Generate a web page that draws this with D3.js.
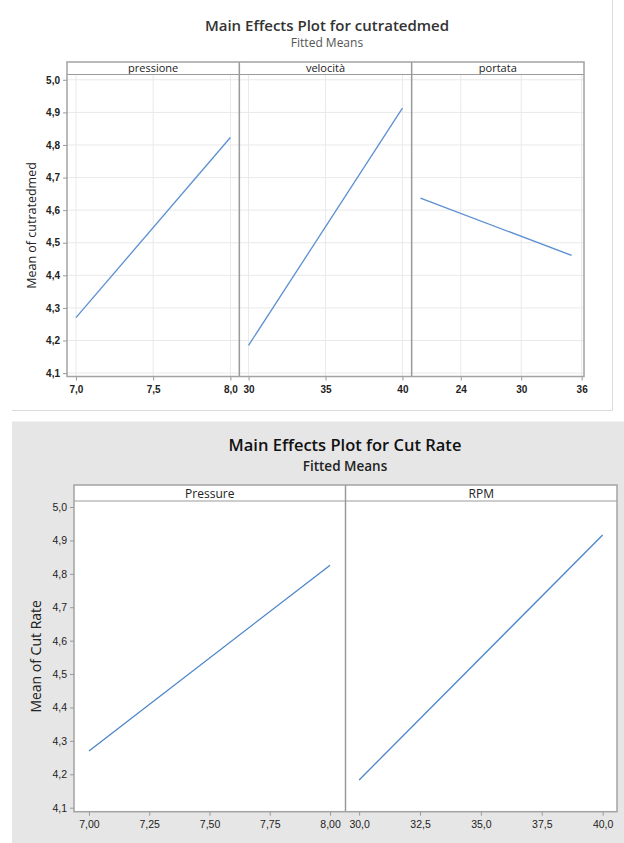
<!DOCTYPE html>
<html>
<head>
<meta charset="utf-8">
<script src="https://cdn.jsdelivr.net/npm/d3@7"></script>
<style>
  body { margin: 0; background: #fff; }
  svg { display: block; font-family: "Open Sans", "Noto Sans", sans-serif; }
</style>
</head>
<body>
<script>
'use strict';

/* Data */

// upper plot: cutratedmed
var topFactors = ['pressione', 'velocità', 'portata'];
var topLevels = [[7.0, 8.0], [30, 40], [20, 35]];
var topMeans = [[4.27, 4.823], [4.185, 4.913], [4.637, 4.461]];
var topTicks = [[7.0, 7.5, 8.0], [30, 35, 40], [24, 30, 36]];
var topAxisRange = [[6.942, 8.058], [29.4, 40.6], [19.13, 36.23]];
var topTickFormat = ['.1f', 'd', 'd'];

// lower plot: Cut Rate
var botFactors = ['Pressure', 'RPM'];
var botLevels = [[7.0, 8.0], [30, 40]];
var botMeans = [[4.27, 4.826], [4.183, 4.916]];
var botTicks = [[7.0, 7.25, 7.5, 7.75, 8.0], [30, 32.5, 35, 37.5, 40]];
var botAxisRange = [[6.938, 8.064], [29.44, 40.59]];
var botTickFormat = ['.2f', '.1f'];

var meanTicks = [4.1, 4.2, 4.3, 4.4, 4.5, 4.6, 4.7, 4.8, 4.9, 5.0];

var it = d3.formatLocale({decimal: ',', thousands: '.', grouping: [3], currency: ['', '']});

var svg = d3.select('body').append('svg')
    .attr('width', 624)
    .attr('height', 843);

function mainEffects(opt) {
  var g = svg.append('g'),
      n = opt.factors.length,
      paneW = (opt.right - opt.left) / n,
      plotTop = opt.top + opt.stripH,
      y = d3.scaleLinear().domain(opt.yDomain).range([opt.bottom, plotTop]);

  // title
  g.append('text')
    .attr('x', opt.cx).attr('y', opt.titleY)
    .attr('text-anchor', 'middle')
    .style('font-size', opt.titleSize + 'px')
    .style('font-weight', 600)
    .style('fill', opt.titleColor)
    .text(opt.title);
  g.append('text')
    .attr('x', opt.cx).attr('y', opt.subY)
    .attr('text-anchor', 'middle')
    .style('font-size', opt.subSize + 'px')
    .style('font-weight', opt.subWeight)
    .style('fill', opt.subColor)
    .text('Fitted Means');

  // plot area
  g.append('rect')
    .attr('x', opt.left).attr('y', opt.top)
    .attr('width', opt.right - opt.left).attr('height', opt.bottom - opt.top)
    .style('fill', '#fff');

  // horizontal grid
  if (opt.grid) {
    g.append('g').selectAll('line').data(meanTicks).enter().append('line')
      .attr('x1', opt.left).attr('x2', opt.right)
      .attr('y1', function(d) { return y(d); })
      .attr('y2', function(d) { return y(d); })
      .style('stroke', '#e9e9e9');
  }

  opt.factors.forEach(function(f, i) {
    var x0 = opt.left + i * paneW,
        x = d3.scaleLinear().domain(opt.range[i]).range([x0, x0 + paneW]),
        pts = opt.levels[i].map(function(l, j) { return [l, opt.means[i][j]]; });

    if (opt.grid) {
      g.append('g').selectAll('line').data(opt.ticks[i]).enter().append('line')
        .attr('x1', function(d) { return x(d); })
        .attr('x2', function(d) { return x(d); })
        .attr('y1', plotTop).attr('y2', opt.bottom)
        .style('stroke', '#e9e9e9');
    }

    var ax = g.append('g')
      .attr('transform', 'translate(0,' + opt.bottom + ')')
      .call(d3.axisBottom(x).tickValues(opt.ticks[i])
        .tickFormat(it.format(opt.fmt[i])).tickSize(4).tickPadding(5).tickSizeOuter(0));
    ax.select('.domain').remove();
    ax.selectAll('line').style('stroke', '#9a9a9a');
    ax.selectAll('text').style('font-size', opt.tickSize + 'px').style('fill', '#222')
      .style('font-weight', opt.tickWeight).style('font-family', 'inherit');

    g.append('path')
      .datum(pts)
      .attr('d', d3.line()
        .x(function(d) { return x(d[0]); })
        .y(function(d) { return y(d[1]); }))
      .style('fill', 'none')
      .style('stroke', opt.lineColor)
      .style('stroke-width', 1.3);

    // strip
    g.append('text')
      .attr('x', x0 + paneW / 2).attr('y', opt.top + opt.stripH - 3)
      .attr('text-anchor', 'middle')
      .style('font-size', opt.stripSize + 'px')
      .style('fill', '#222')
      .text(f);

    if (i > 0) {
      g.append('line')
        .attr('x1', x0).attr('x2', x0)
        .attr('y1', opt.top).attr('y2', opt.bottom)
        .style('stroke', '#9a9a9a').style('stroke-width', 1.5);
    }
  });

  g.append('line')
    .attr('x1', opt.left).attr('x2', opt.right)
    .attr('y1', plotTop).attr('y2', plotTop)
    .style('stroke', '#9a9a9a');

  g.append('rect')
    .attr('x', opt.left).attr('y', opt.top)
    .attr('width', opt.right - opt.left).attr('height', opt.bottom - opt.top)
    .style('fill', 'none').style('stroke', '#a3a3a3').style('stroke-width', 1.5);

  var ay = g.append('g')
    .attr('transform', 'translate(' + opt.left + ',0)')
    .call(d3.axisLeft(y).tickValues(meanTicks).tickFormat(it.format('.1f'))
      .tickSize(4).tickPadding(3).tickSizeOuter(0));
  ay.select('.domain').remove();
  ay.selectAll('line').style('stroke', '#9a9a9a');
  ay.selectAll('text').style('font-size', opt.tickSize + 'px').style('fill', '#222')
    .style('font-weight', opt.tickWeight).style('font-family', 'inherit');

  g.append('text')
    .attr('transform', 'translate(' + opt.ylabX + ',' + ((plotTop + opt.bottom) / 2) + ') rotate(-90)')
    .attr('text-anchor', 'middle')
    .style('font-size', opt.ylabSize + 'px')
    .style('fill', '#222')
    .text(opt.ylab);
}

// page frames
svg.append('line').attr('x1', 612.5).attr('x2', 612.5).attr('y1', 0).attr('y2', 410.5)
  .style('stroke', '#dcdcdc');
svg.append('line').attr('x1', 12).attr('x2', 612.5).attr('y1', 410.5).attr('y2', 410.5)
  .style('stroke', '#dcdcdc');
svg.append('rect').attr('x', 12).attr('y', 421.5).attr('width', 612).attr('height', 422)
  .style('fill', '#e6e6e6');

mainEffects({
  title: 'Main Effects Plot for cutratedmed', titleY: 31, titleSize: 15, titleColor: '#333',
  subY: 47, subSize: 12, subWeight: 400, subColor: '#555', cx: 327,
  factors: topFactors, levels: topLevels, means: topMeans, ticks: topTicks,
  range: topAxisRange, fmt: topTickFormat,
  left: 67, right: 584, top: 62, stripH: 12.5, bottom: 376.5,
  yDomain: [4.0895, 5.0163], grid: true,
  tickSize: 10, tickWeight: 600, stripSize: 11, ylab: 'Mean of cutratedmed', ylabX: 36, ylabSize: 12.5,
  lineColor: '#5b8fd2'
});

mainEffects({
  title: 'Main Effects Plot for Cut Rate', titleY: 451, titleSize: 16.5, titleColor: '#111',
  subY: 471, subSize: 13.5, subWeight: 600, subColor: '#222', cx: 345,
  factors: botFactors, levels: botLevels, means: botMeans, ticks: botTicks,
  range: botAxisRange, fmt: botTickFormat,
  left: 74, right: 617, top: 485, stripH: 16, bottom: 811.7,
  yDomain: [4.088, 5.018], grid: false,
  tickSize: 10.5, tickWeight: 400, stripSize: 12, ylab: 'Mean of Cut Rate', ylabX: 41, ylabSize: 14,
  lineColor: '#4a85c9'
});
</script>
</body>
</html>
